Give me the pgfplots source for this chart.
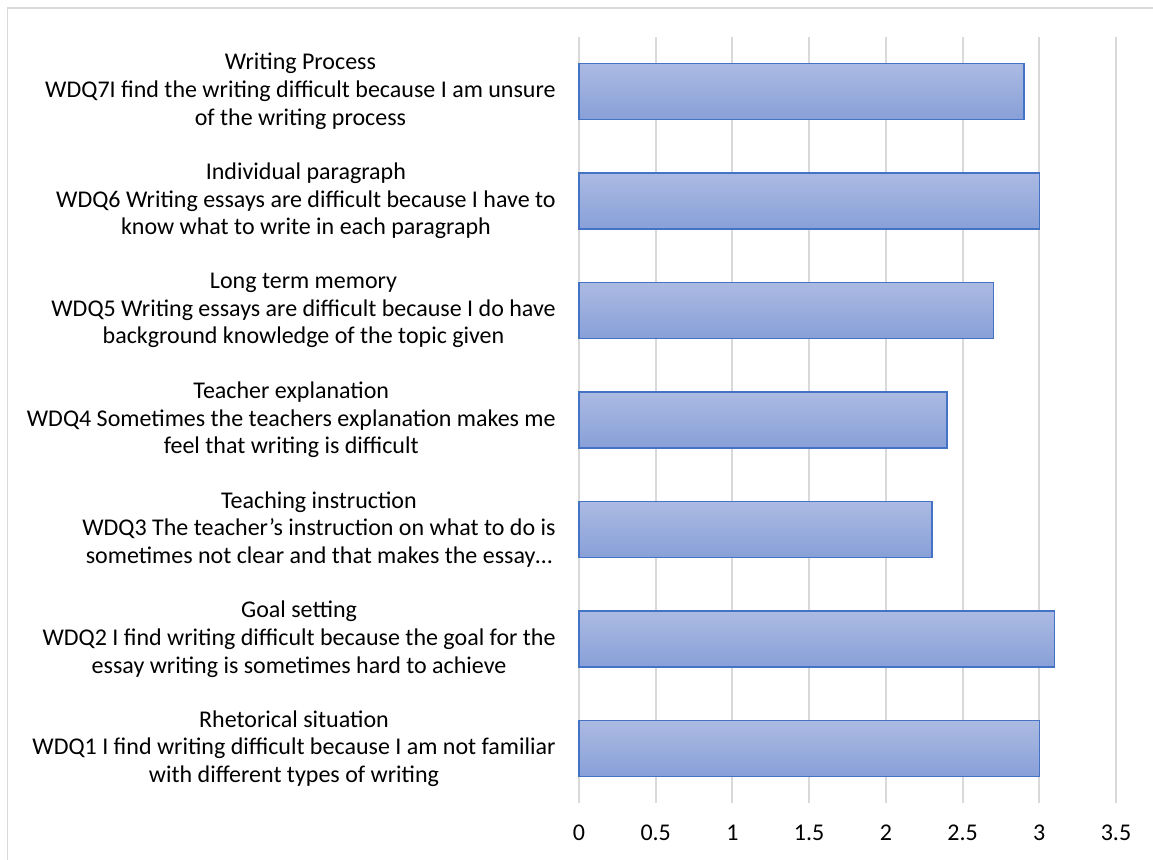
\documentclass[border=0pt]{standalone}
\usepackage{fontspec}
\setmainfont{Carlito}
\usepackage{pgfplots}
\pgfplotsset{compat=1.18}
\definecolor{barEdge}{HTML}{4472C4}
\definecolor{barTop}{HTML}{ABBAE2}
\definecolor{barBot}{HTML}{88A0D8}
\definecolor{gridc}{HTML}{D9D9D9}
\pgfplotsset{onebar/.style={draw=barEdge, line width=1.1pt, top color=barTop, bottom color=barBot, bar shift=0pt}}
\begin{document}
\begin{tikzpicture}
\useasboundingbox (-434.25pt,-42.5pt) rectangle (430.5pt,602.5pt);
\draw[gridc, line width=1pt] (-428.8pt,-43pt) -- (-428.8pt,596.5pt) -- (431pt,596.5pt);
\begin{axis}[
  at={(0pt,0pt)}, anchor=south west,
  scale only axis, width=402.75pt, height=575pt,
  xmin=0, xmax=3.5, ymin=-0.5, ymax=6.5,
  xtick={0,0.5,...,3.5},
  ytick={0,...,6},
  yticklabels={
    {Rhetorical situation\\WDQ1 I find writing difficult because I am not familiar\\with different types of writing},
    {Goal setting\\WDQ2 I find writing difficult because the goal for the\\essay writing is sometimes hard to achieve},
    {Teaching instruction\\WDQ3 The teacher’s instruction on what to do is\\sometimes not clear and that makes the essay…},
    {Teacher explanation\\WDQ4 Sometimes the teachers explanation makes me\\feel that writing is difficult},
    {Long term memory\\WDQ5 Writing essays are difficult because I do have\\background knowledge of the topic given},
    {Individual paragraph\\WDQ6 Writing essays are difficult because I have to\\know what to write in each paragraph},
    {Writing Process\\WDQ7I find the writing  difficult because I am unsure\\of the writing process}
  },
  yticklabel style={align=center, font=\fontsize{18}{20.8}\selectfont, xshift=-14pt},
  xticklabel style={font=\fontsize{18}{20.8}\selectfont, yshift=-13pt},
  /pgf/number format/assume math mode=true,
  xticklabel={\pgfmathprintnumber[fixed,precision=1]{\tick}},
  axis line style={draw=none},
  major tick length=0pt,
  xmajorgrids, ymajorgrids=false,
  grid style={gridc, line width=1.4pt},
  xbar, bar width=0.51,
  clip=false,
]
\addplot[onebar] coordinates {(3.0,0)};
\addplot[onebar] coordinates {(3.1,1)};
\addplot[onebar] coordinates {(2.3,2)};
\addplot[onebar] coordinates {(2.4,3)};
\addplot[onebar] coordinates {(2.7,4)};
\addplot[onebar] coordinates {(3.0,5)};
\addplot[onebar] coordinates {(2.9,6)};
\end{axis}
\end{tikzpicture}
\end{document}
